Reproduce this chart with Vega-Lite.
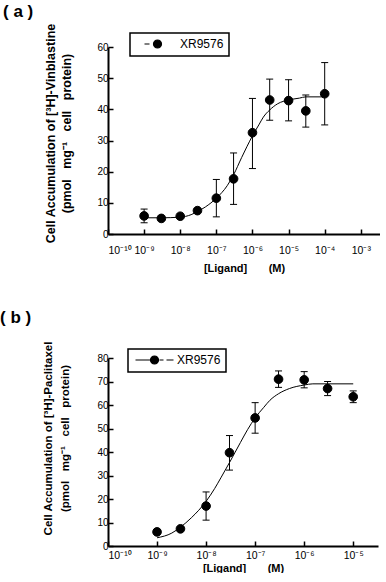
{
  "$schema": "https://vega.github.io/schema/vega-lite/v6.json",
  "background": "white",
  "padding": {"left": 0, "top": 3, "right": 0, "bottom": 0},
  "spacing": 35,
  "resolve": {"scale": {"color": "independent"}, "legend": {"color": "independent"}},
  "config": {
    "view": {"stroke": null},
    "font": "Liberation Sans",
    "axis": {
      "grid": false,
      "domainColor": "black",
      "domainWidth": 2,
      "tickColor": "black",
      "tickWidth": 1.5,
      "tickSize": -5,
      "labelFont": "Liberation Sans",
      "labelFontSize": 10,
      "labelColor": "black",
      "titleFont": "Liberation Sans",
      "titleFontWeight": "bold",
      "titleColor": "black"
    },
    "legend": {"strokeWidth": 1.5}
  },
  "vconcat": [
    {
      "width": 272,
      "height": 187,
      "title": {"text": "( a )", "anchor": "start", "frame": "group", "dx": -105, "offset": -11, "fontSize": 17, "baseline": "alphabetic", "font": "Liberation Sans", "fontWeight": "bold", "color": "black"},
      "data": {"values": [
        {"conc": 1e-9, "acc": 5.8, "lo": 3.6, "hi": 8.0},
        {"conc": 3e-9, "acc": 5.0},
        {"conc": 1e-8, "acc": 5.7},
        {"conc": 3e-8, "acc": 7.5},
        {"conc": 1e-7, "acc": 11.5, "lo": 5.5, "hi": 17.5},
        {"conc": 3e-7, "acc": 17.7, "lo": 9.5, "hi": 26},
        {"conc": 1e-6, "acc": 32.5, "lo": 21, "hi": 43.5},
        {"conc": 3e-6, "acc": 43, "lo": 36.5, "hi": 49.7},
        {"conc": 1e-5, "acc": 42.8, "lo": 36.3, "hi": 49.5},
        {"conc": 3e-5, "acc": 39.5, "lo": 34.3, "hi": 44.6},
        {"conc": 1e-4, "acc": 45, "lo": 35, "hi": 55}
      ]},
      "encoding": {
        "x": {"field": "conc", "type": "quantitative",
          "scale": {"type": "log", "domain": [1e-10, 3.4e-3], "nice": false},
          "axis": {"values": [1e-10, 1e-9, 1e-8, 1e-7, 1e-6, 1e-5, 1e-4, 1e-3], "labelOverlap": false, "labelFontSize": 10.5,
            "labelExpr": "['10⁻¹⁰','10⁻⁹','10⁻⁸','10⁻⁷','10⁻⁶','10⁻⁵','10⁻⁴','10⁻³'][round(log(datum.value)/LN10)+10]",
            "labelPadding": 16, "title": "[Ligand]\u00a0\u00a0\u00a0\u00a0\u00a0\u00a0\u00a0(M)", "titleFontSize": 11, "titleY": 34, "titleBaseline": "middle"}}
      },
      "layer": [
        {
          "mark": {"type": "point", "filled": true, "size": 75, "opacity": 1, "stroke": "black", "strokeWidth": 1},
          "encoding": {
            "y": {"field": "acc", "type": "quantitative", "scale": {"domain": [0, 60], "nice": false},
              "axis": {"values": [0, 10, 20, 30, 40, 50, 60], "tickCount": 7, "labelPadding": 5, "labelOverlap": false, "labelSeparation": -50,
                "title": ["Cell Accumulation of [³H]-Vinblastine", "(pmol\u00a0\u00a0\u00a0mg⁻¹\u00a0\u00a0\u00a0cell\u00a0\u00a0\u00a0protein)"],
                "titleFontSize": 12.5, "titleLineHeight": 16, "titleX": -58, "titleY": 86, "titleBaseline": "middle", "titleAlign": "center", "titleAngle": -90}},
            "color": {"datum": "XR9576", "type": "nominal", "scale": {"range": ["black"]},
              "legend": {"orient": "none", "legendX": 22, "legendY": -14, "title": null,
                "symbolType": "M-3.25,0H-2M1,0A1,1,0,1,1,-1,0A1,1,0,1,1,1,0Z",
                "symbolSize": 64, "symbolOffset": 16.5, "symbolFillColor": "black", "symbolStrokeColor": "black", "symbolStrokeWidth": 1.2,
                "labelFontSize": 12, "labelFont": "Liberation Sans", "labelColor": "black", "labelOffset": 16.5,
                "padding": 5, "strokeColor": "black", "fillColor": "white"}}
          }
        },
        {
          "transform": [{"filter": "isValid(datum.lo)"}],
          "mark": {"type": "rule", "color": "black", "strokeWidth": 1},
          "encoding": {
            "y": {"field": "lo", "type": "quantitative"},
            "y2": {"field": "hi"}
          }
        },
        {
          "transform": [{"filter": "isValid(datum.lo)"}, {"fold": ["lo", "hi"], "as": ["end", "val"]}],
          "mark": {"type": "point", "shape": "M-1,0H1", "size": 49, "stroke": "black", "strokeWidth": 1, "filled": false, "opacity": 1},
          "encoding": {"y": {"field": "val", "type": "quantitative"}}
        },
        {
          "data": {"values": [
            {"conc": 1e-9, "fit": 5.2}, {"conc": 3e-9, "fit": 5.2}, {"conc": 1e-8, "fit": 5.4},
            {"conc": 2e-8, "fit": 6.2}, {"conc": 3e-8, "fit": 7.2}, {"conc": 5e-8, "fit": 8.7},
            {"conc": 1e-7, "fit": 11.5}, {"conc": 2e-7, "fit": 15.5}, {"conc": 3e-7, "fit": 19},
            {"conc": 5e-7, "fit": 24.5}, {"conc": 7e-7, "fit": 28}, {"conc": 1e-6, "fit": 31.5},
            {"conc": 1.5e-6, "fit": 35}, {"conc": 2e-6, "fit": 37.5}, {"conc": 3e-6, "fit": 39.8},
            {"conc": 5e-6, "fit": 41.8}, {"conc": 1e-5, "fit": 43}, {"conc": 2e-5, "fit": 43.6},
            {"conc": 3e-5, "fit": 44}, {"conc": 1e-4, "fit": 44}
          ]},
          "mark": {"type": "line", "color": "black", "strokeWidth": 1, "interpolate": "monotone"},
          "encoding": {"y": {"field": "fit", "type": "quantitative"}}
        }
      ]
    },
    {
      "width": 270,
      "height": 188,
      "title": {"text": "( b )", "anchor": "start", "frame": "group", "dx": -108, "offset": 1, "fontSize": 17, "baseline": "alphabetic", "font": "Liberation Sans", "fontWeight": "bold", "color": "black"},
      "data": {"values": [
        {"conc": 1e-9, "acc": 6.0},
        {"conc": 3e-9, "acc": 7.3},
        {"conc": 1e-8, "acc": 17, "lo": 11, "hi": 23},
        {"conc": 3e-8, "acc": 39.7, "lo": 32.3, "hi": 47},
        {"conc": 1e-7, "acc": 54.5, "lo": 48, "hi": 61},
        {"conc": 3e-7, "acc": 71, "lo": 67.5, "hi": 74.5},
        {"conc": 1e-6, "acc": 70.7, "lo": 67.3, "hi": 74.2},
        {"conc": 3e-6, "acc": 67, "lo": 64, "hi": 70},
        {"conc": 1e-5, "acc": 63.5, "lo": 61, "hi": 66}
      ]},
      "encoding": {
        "x": {"field": "conc", "type": "quantitative",
          "scale": {"type": "log", "domain": [1e-10, 3.2e-5], "nice": false},
          "axis": {"values": [1e-10, 1e-9, 1e-8, 1e-7, 1e-6, 1e-5], "labelOverlap": false, "labelFontSize": 10.5,
            "labelExpr": "['10⁻¹⁰','10⁻⁹','10⁻⁸','10⁻⁷','10⁻⁶','10⁻⁵'][round(log(datum.value)/LN10)+10]",
            "labelPadding": 9, "title": "[Ligand]\u00a0\u00a0\u00a0\u00a0\u00a0\u00a0\u00a0(M)", "titleFontSize": 11, "titleY": 22, "titleBaseline": "middle"}}
      },
      "layer": [
        {
          "mark": {"type": "point", "filled": true, "size": 75, "opacity": 1, "stroke": "black", "strokeWidth": 1},
          "encoding": {
            "y": {"field": "acc", "type": "quantitative", "scale": {"domain": [0, 80], "nice": false},
              "axis": {"values": [0, 10, 20, 30, 40, 50, 60, 70, 80], "tickCount": 9, "labelPadding": 5, "labelOverlap": false, "labelSeparation": -50,
                "title": ["Cell Accumulation of [³H]-Paclitaxel", "(pmol\u00a0\u00a0\u00a0mg⁻¹\u00a0\u00a0\u00a0cell\u00a0\u00a0\u00a0protein)"],
                "titleFontSize": 11.5, "titleLineHeight": 17, "titleX": -60, "titleY": 80, "titleBaseline": "middle", "titleAlign": "center", "titleAngle": -90}},
            "color": {"datum": "XR9576", "type": "nominal", "scale": {"range": ["black"]},
              "legend": {"orient": "none", "legendX": 20, "legendY": -9, "title": null,
                "symbolType": "M-4.75,0H-1M1,0A1,1,0,1,1,-1,0A1,1,0,1,1,1,0ZM1.25,0H2.25M3,0H4.75",
                "symbolSize": 64, "symbolOffset": 15.5, "symbolFillColor": "black", "symbolStrokeColor": "black", "symbolStrokeWidth": 1.2,
                "labelFontSize": 12, "labelFont": "Liberation Sans", "labelColor": "black", "labelOffset": 16.5,
                "padding": 5, "strokeColor": "black", "fillColor": "white"}}
          }
        },
        {
          "transform": [{"filter": "isValid(datum.lo)"}],
          "mark": {"type": "rule", "color": "black", "strokeWidth": 1},
          "encoding": {
            "y": {"field": "lo", "type": "quantitative"},
            "y2": {"field": "hi"}
          }
        },
        {
          "transform": [{"filter": "isValid(datum.lo)"}, {"fold": ["lo", "hi"], "as": ["end", "val"]}],
          "mark": {"type": "point", "shape": "M-1,0H1", "size": 49, "stroke": "black", "strokeWidth": 1, "filled": false, "opacity": 1},
          "encoding": {"y": {"field": "val", "type": "quantitative"}}
        },
        {
          "data": {"values": [
            {"conc": 1e-9, "fit": 3.5}, {"conc": 2e-9, "fit": 5.5}, {"conc": 3e-9, "fit": 8},
            {"conc": 5e-9, "fit": 12}, {"conc": 1e-8, "fit": 19}, {"conc": 1.5e-8, "fit": 24.5},
            {"conc": 2e-8, "fit": 29}, {"conc": 3e-8, "fit": 35.5}, {"conc": 5e-8, "fit": 44},
            {"conc": 7e-8, "fit": 49.5}, {"conc": 1e-7, "fit": 54.5}, {"conc": 1.5e-7, "fit": 59},
            {"conc": 2e-7, "fit": 62}, {"conc": 3e-7, "fit": 64.8}, {"conc": 5e-7, "fit": 67},
            {"conc": 1e-6, "fit": 68.5}, {"conc": 1.5e-6, "fit": 69}, {"conc": 3e-6, "fit": 69},
            {"conc": 1e-5, "fit": 69}
          ]},
          "mark": {"type": "line", "color": "black", "strokeWidth": 1, "interpolate": "monotone"},
          "encoding": {"y": {"field": "fit", "type": "quantitative"}}
        }
      ]
    }
  ]
}
